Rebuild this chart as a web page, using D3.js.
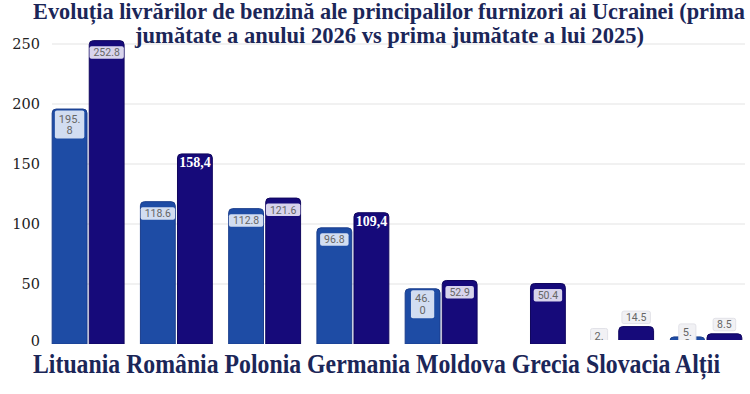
<!DOCTYPE html>
<html>
<head>
  <meta charset='utf-8'>
  <title>Benzina Ucraina</title>
  <script src='https://cdn.jsdelivr.net/npm/d3@7'></script>
  <style>
    body { margin: 0; background: #fff; }
  </style>
</head>
<body>
  <script>
    // date (mii tone)
    const categories = ["Lituania", "România", "Polonia", "Germania", "Moldova", "Grecia", "Slovacia", "Alții"];
    const series = ["h1_2025", "h1_2026"];
    const values2025 = [195.8, 118.6, 112.8, 96.8, 46.0, null, 2.1, 5.9];
    const values2026 = [252.8, 158.4, 121.6, 109.4, 52.9, 50.4, 14.5, 8.5];
    const labels2025 = ["195.|8", "118.6", "112.8", "96.8", "46.|0", "", "2.|1", "5.|9"];
    const labels2026 = ["252.8", "158,4", "121.6", "109,4", "52.9", "50.4", "14.5", "8.5"];
    const mode2025 = ["in", "in", "in", "in", "in", "none", "above", "above"];
    const mode2026 = ["in", "white", "in", "white", "in", "in", "above", "above"];
    const yTicks = [0, 50, 100, 150, 200, 250];
    const titleLines = [
      "Evoluția livrărilor de benzină ale principalilor furnizori ai Ucrainei (prima",
      "jumătate a anului 2026 vs prima jumătate a lui 2025)"
    ];

    const width = 750, height = 394;
    const colors = { h1_2025: "#1e4ca5", h1_2026: "#160a7a" };
    const strokes = { h1_2025: "#1a3d8c", h1_2026: "#10065e" };
    const boxFill = { h1_2025: "#d2ddf1", h1_2026: "#d8d4ec" };

    const rows = categories.map((c, i) => ({
      cat: c,
      items: [
        { key: "h1_2025", v: values2025[i], label: labels2025[i], mode: mode2025[i] },
        { key: "h1_2026", v: values2026[i], label: labels2026[i], mode: mode2026[i] }
      ]
    }));

    const svg = d3.select("body").append("svg")
      .attr("width", width).attr("height", height);

    const x = d3.scaleBand().domain(categories).range([44, 750])
      .paddingInner(0.185).paddingOuter(0.0925);
    const xs = d3.scaleBand().domain(series).range([0, x.bandwidth()]).paddingInner(0.06);
    const y = d3.scaleLinear().domain([0, 250]).range([344, 44]);

    // grila
    svg.append("g")
      .selectAll("line")
      .data(yTicks.filter(d => d > 0))
      .join("line")
      .attr("x1", 52).attr("x2", 745)
      .attr("y1", d => y(d)).attr("y2", d => y(d))
      .attr("stroke", "#e4e4e4").attr("stroke-width", 1.2);

    // axa y
    const yAxis = svg.append("g")
      .attr("transform", "translate(40,0)")
      .call(d3.axisLeft(y).tickValues(yTicks).tickSize(0).tickPadding(0));
    yAxis.select(".domain").remove();
    yAxis.selectAll("text")
      .attr("font-family", "'DejaVu Serif', serif")
      .attr("font-size", 14.5)
      .attr("fill", "#222");
    yAxis.selectAll(".tick").filter(d => d === 0).select("text").attr("dy", "0.1em");

    svg.append("defs").append("clipPath").attr("id", "plot")
      .append("rect").attr("x", 0).attr("y", 0).attr("width", width).attr("height", 344);

    const plot = svg.append("g").attr("clip-path", "url(#plot)");

    const groups = plot.selectAll("g.cat")
      .data(rows)
      .join("g")
      .attr("class", "cat")
      .attr("transform", d => `translate(${x(d.cat)},0)`);

    const barPath = (x0, w, top, bottom, r) => {
      r = Math.min(r, (bottom - top));
      return `M${x0},${bottom}V${top + r}Q${x0},${top} ${x0 + r},${top}H${x0 + w - r}Q${x0 + w},${top} ${x0 + w},${top + r}V${bottom}Z`;
    };

    groups.selectAll("path.bar")
      .data(d => d.items.filter(it => it.v != null))
      .join("path")
      .attr("class", "bar")
      .attr("d", d => barPath(xs(d.key), xs.bandwidth(), y(d.v), y(0), 4))
      .attr("fill", d => colors[d.key])
      .attr("stroke", d => strokes[d.key])
      .attr("stroke-width", 1);

    // etichete
    const labelFont = "Roboto, 'Noto Sans', sans-serif";
    groups.each(function (row) {
      const g = d3.select(this);
      row.items.forEach(it => {
        if (it.v == null || it.mode === "none") return;
        const cx = xs(it.key) + xs.bandwidth() / 2;
        const top = y(it.v);
        if (it.mode === "white") {
          g.append("text")
            .attr("x", cx).attr("y", top + 13.5)
            .attr("text-anchor", "middle")
            .attr("font-family", "'Liberation Serif', serif")
            .attr("font-weight", "bold")
            .attr("font-size", 14)
            .attr("fill", "#fff")
            .text(it.label);
          return;
        }
        const lines = it.label.split("|");
        const two = lines.length > 1;
        const lh = 11.5;
        const boxH = two ? 28 : 12.5;
        const boxTop = it.mode === "in" ? top + (two ? 1.5 : 5.5) : (two ? top - 13 : top - boxH - 3);
        const t = g.append("text")
          .attr("text-anchor", "middle")
          .attr("font-family", labelFont)
          .attr("font-size", two ? 11 : 10.5)
          .attr("fill", "#666");
        lines.forEach((ln, k) => {
          t.append("tspan").attr("x", cx).attr("y", boxTop + (two ? 12 : 10) + k * lh).text(ln);
        });
        const w = d3.max(t.selectAll("tspan").nodes(), n => n.getComputedTextLength()) + 8;
        g.insert("rect", "text")
          .attr("x", cx - w / 2).attr("y", boxTop)
          .attr("width", w).attr("height", boxH)
          .attr("rx", 2)
          .attr("fill", it.mode === "above" ? "#f1f1f4" : boxFill[it.key])
          .attr("stroke", it.mode === "above" ? "#e2e2e8" : "none");
      });
    });

    // fundal alb sub rândul de categorii (acoperă partea de jos, dreapta)
    svg.append("rect")
      .attr("x", 575).attr("y", 340).attr("width", 175).attr("height", 8)
      .attr("fill", "#fff");

    // titlu
    const fitText = (sel, targetW) => {
      const w = sel.node().getComputedTextLength();
      const fs = +sel.attr("font-size");
      sel.attr("font-size", fs * targetW / w);
    };
    const serif = "'Liberation Serif', 'Times New Roman', serif";
    const titleCfg = [{ cx: 389, y: 19, w: 712 }, { cx: 389.5, y: 43, w: 509 }];
    titleLines.forEach((ln, i) => {
      const t = svg.append("text")
        .attr("transform", `translate(${titleCfg[i].cx},${titleCfg[i].y}) scale(1,1.06)`)
        .attr("text-anchor", "middle")
        .attr("font-family", serif)
        .attr("font-weight", "bold")
        .attr("font-size", 22)
        .attr("fill", "#1b2658")
        .text(ln);
      fitText(t, titleCfg[i].w);
    });

    // etichete categorii (rând suprapus)
    const catText = svg.append("text")
      .attr("transform", "translate(376.5,373) scale(1,1.18)")
      .attr("text-anchor", "middle")
      .attr("font-family", serif)
      .attr("font-weight", "bold")
      .attr("font-size", 22)
      .attr("fill", "#1b2658")
      .text(categories.join(" "));
    fitText(catText, 687);
  </script>
</body>
</html>
